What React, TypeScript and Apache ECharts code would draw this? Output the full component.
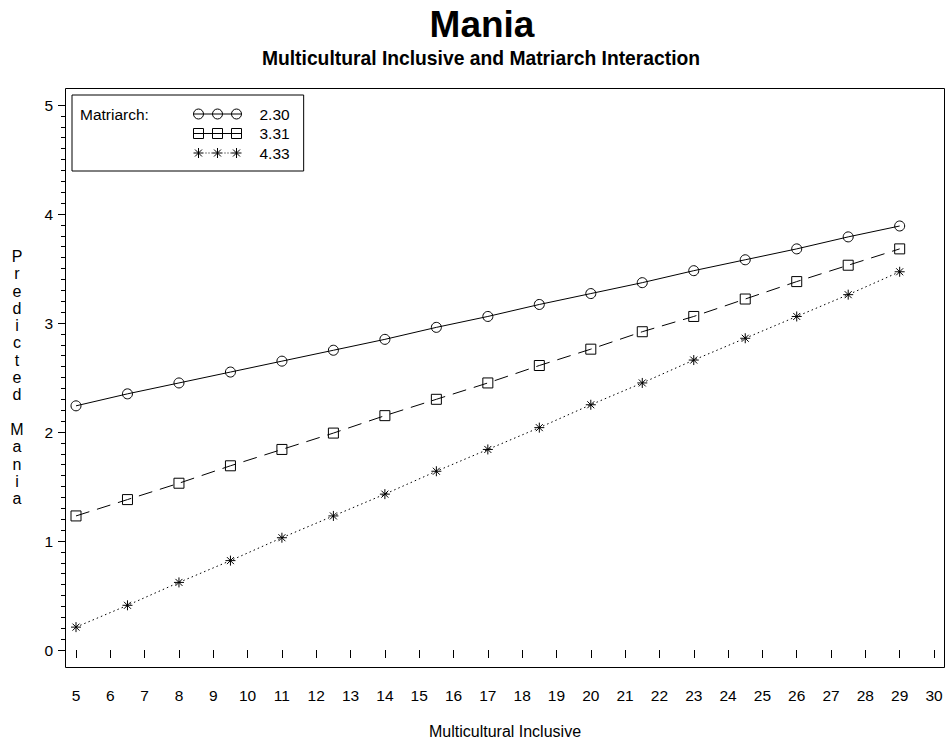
import React, { useEffect, useRef } from "react";
import * as echarts from "echarts";

const xValues = [5, 6.5, 8, 9.5, 11, 12.5, 14, 15.5, 17, 18.5, 20, 21.5, 23, 24.5, 26, 27.5, 29];
const series230 = [2.24, 2.35, 2.45, 2.55, 2.65, 2.75, 2.85, 2.96, 3.06, 3.17, 3.27, 3.37, 3.48, 3.58, 3.68, 3.79, 3.89];
const series331 = [1.23, 1.38, 1.53, 1.69, 1.84, 1.99, 2.15, 2.30, 2.45, 2.61, 2.76, 2.92, 3.06, 3.22, 3.38, 3.53, 3.68];
const series433 = [0.21, 0.41, 0.62, 0.82, 1.03, 1.23, 1.43, 1.64, 1.84, 2.04, 2.25, 2.45, 2.66, 2.86, 3.06, 3.26, 3.47];
const seriesNames = ["2.30", "3.31", "4.33"];

const FONT = "'Liberation Sans', Arial, sans-serif";

const STAR = "path://M0,5 L10,5 M5,0 L5,10 M1.5,1.5 L8.5,8.5 M1.5,8.5 L8.5,1.5";

const circ = (cx: number) => `M${cx - 5},5 A5,5 0 1,1 ${cx + 5},5 A5,5 0 1,1 ${cx - 5},5 Z `;
const sq = (cx: number) => `M${cx - 5},0 L${cx + 5},0 L${cx + 5},10 L${cx - 5},10 Z `;
const st = (cx: number) =>
  `M${cx - 5},5 L${cx + 5},5 M${cx},0 L${cx},10 M${cx - 3.5},1.5 L${cx + 3.5},8.5 M${cx - 3.5},8.5 L${cx + 3.5},1.5 `;
const centers = [5, 24, 43];
const LEG_CIRCLE = "path://" + centers.map(circ).join("") + "M0,5 L48,5";
const LEG_SQUARE = "path://" + centers.map(sq).join("") + "M0,5 L48,5";
const dots = (a: number, b: number) => {
  let s = "";
  for (let x = a; x < b; x += 3) s += `M${x},5 L${x + 1},5 `;
  return s;
};
const LEG_STAR = "path://" + centers.map(st).join("") + dots(12, 19) + dots(31, 38);

export default function App() {
  const ref = useRef<HTMLDivElement>(null);
  useEffect(() => {
    if (!ref.current) return;
    const chart = echarts.init(ref.current, null, { renderer: "svg" });
    const mk = (name: string, vals: number[], symbol: string, dash: any) => ({
      name,
      type: "line",
      data: xValues.map((x, i) => [x, vals[i]]),
      symbol,
      symbolSize: 10,
      showSymbol: true,
      itemStyle: { color: "transparent", borderColor: "#000", borderWidth: 1 },
      lineStyle: { color: "#000", width: 1, type: dash },
      emphasis: { disabled: true },
      z: 3,
    });
    chart.setOption({
      animation: false,
      backgroundColor: "#fff",
      textStyle: { fontFamily: FONT, color: "#000" },
      title: [
        {
          text: "Mania",
          left: 477,
          top: 1,
          textAlign: "center",
          textStyle: { fontFamily: FONT, fontSize: 37, fontWeight: "bold", color: "#000" },
        },
        {
          text: "Multicultural Inclusive and Matriarch Interaction",
          left: 476,
          top: 44,
          textAlign: "center",
          textStyle: { fontFamily: FONT, fontSize: 19.3, fontWeight: "bold", color: "#000" },
        },
      ],
      legend: {
        orient: "vertical",
        left: 72,
        top: 95,
        padding: [11, 14, 10, 121],
        borderColor: "#000",
        borderWidth: 1,
        itemWidth: 48,
        itemHeight: 10,
        itemGap: 3.5,
        selectedMode: false,
        itemStyle: { color: "transparent", borderColor: "#000", borderWidth: 1 },
        textStyle: { fontFamily: FONT, fontSize: 15.5, color: "#000", lineHeight: 14, padding: [0, 0, 0, 13] },
        data: [
          { name: "2.30", icon: LEG_CIRCLE },
          { name: "3.31", icon: LEG_SQUARE },
          { name: "4.33", icon: LEG_STAR },
        ],
      },
      graphic: [
        {
          type: "rect",
          shape: { x: 65.5, y: 88.5, width: 879, height: 579 },
          style: { fill: "none", stroke: "#000", lineWidth: 1 },
          silent: true,
          z: 1,
        },
        {
          type: "text",
          left: 80,
          top: 106,
          style: { text: "Matriarch:", font: `15.5px ${FONT}`, fill: "#000" },
          z: 10,
        },
      ],
      grid: { left: 76, right: 14, top: 105, bottom: 94, containLabel: false },
      xAxis: {
        type: "value",
        min: 5,
        max: 30,
        interval: 1,
        offset: 19,
        axisLine: { show: false },
        axisTick: { show: true, length: 8, lineStyle: { color: "#000" } },
        splitLine: { show: false },
        axisLabel: { margin: 18, fontFamily: FONT, fontSize: 15.5, color: "#000" },
        name: "Multicultural Inclusive",
        nameLocation: "middle",
        nameGap: 54,
        nameTextStyle: { fontFamily: FONT, fontSize: 16, color: "#000" },
      },
      yAxis: {
        type: "value",
        min: 0,
        max: 5,
        interval: 1,
        offset: 11,
        axisLine: { show: false },
        axisTick: { show: true, length: 7, lineStyle: { color: "#000" } },
        minorTick: { show: true, splitNumber: 10, length: 4, lineStyle: { color: "#000" } },
        splitLine: { show: false },
        minorSplitLine: { show: false },
        axisLabel: { margin: 12, fontFamily: FONT, fontSize: 15.5, color: "#000" },
        name: "P\nr\ne\nd\ni\nc\nt\ne\nd\n\nM\na\nn\ni\na",
        nameLocation: "middle",
        nameRotate: 0,
        nameGap: 48,
        nameTextStyle: {
          fontFamily: FONT,
          fontSize: 16,
          color: "#000",
          align: "center",
          verticalAlign: "middle",
          lineHeight: 17.3,
        },
      },
      series: [
        mk(seriesNames[0], series230, "circle", "solid"),
        mk(seriesNames[1], series331, "rect", [14, 8]),
        mk(seriesNames[2], series433, STAR, [1.5, 3]),
      ],
    });
    return () => chart.dispose();
  }, []);
  return <div ref={ref} style={{ width: 948, height: 744, position: "absolute", left: 0, top: 0 }} />;
}
